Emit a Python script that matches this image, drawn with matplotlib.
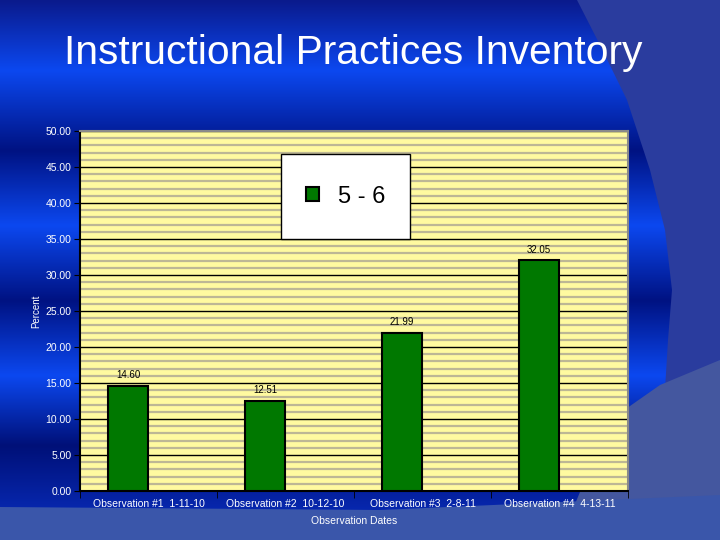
import matplotlib.pyplot as plt
import numpy as np
from matplotlib.patches import Polygon, Rectangle

# Daten
categories = ['Observation #1  1-11-10', 'Observation #2  10-12-10',
              'Observation #3  2-8-11', 'Observation #4  4-13-11']
values = [14.60, 12.51, 21.99, 32.05]
series_name = '5 - 6'
title = 'Instructional Practices Inventory'

plt.rcParams['font.family'] = ['Liberation Sans', 'DejaVu Sans']

fig = plt.figure(figsize=(7.2, 5.4), dpi=100)

# Hintergrund (Folie) in Pixelkoordinaten
bg = fig.add_axes([0, 0, 1, 1], zorder=-5)
bg.set_xlim(0, 720)
bg.set_ylim(540, 0)
bg.axis('off')

stops_y = [0, 70, 150, 225, 300, 375, 445, 540]
stops_c = np.array([[10, 26, 140], [12, 72, 240], [0, 18, 130], [12, 72, 240],
                    [0, 18, 130], [12, 72, 240], [0, 16, 120], [10, 50, 200]]) / 255
yy = np.arange(540)
grad = np.stack([np.interp(yy, stops_y, stops_c[:, k]) for k in range(3)], axis=-1)
grad = np.repeat(grad[:, None, :], 2, axis=1)
bg.imshow(grad, extent=(0, 720, 540, 0), aspect='auto', interpolation='bilinear')

# rechte Sichel
crescent = [(577, 0), (720, 0), (720, 360), (665, 390), (668, 340), (672, 290),
            (665, 230), (650, 170), (627, 100), (600, 45)]
bg.add_patch(Polygon(crescent, closed=True, facecolor='#2a3c9e', edgecolor='none'))
# helle Fläche unten rechts
bg.add_patch(Polygon([(720, 360), (720, 540), (560, 540), (610, 420), (660, 385)],
                     closed=True, facecolor='#44579f', edgecolor='none'))
# Band unten
bg.add_patch(Polygon([(0, 507), (380, 510), (720, 495), (720, 540), (0, 540)],
                     closed=True, facecolor='#3a56aa', edgecolor='none'))

fig.text(0.49, 0.902, title, color='white', fontsize=29.3, ha='center', va='center')

# Diagramm
ax = fig.add_axes([80 / 720, 49 / 540, 548 / 720, 360 / 540])
ax.set_facecolor('#fffaa0')

x = np.arange(len(categories))
bars = ax.bar(x + 0.35, values, width=0.29, color='#007800', edgecolor='black',
              linewidth=1.5, label=series_name, zorder=3)
ax.bar_label(bars, fmt='%.2f', padding=4, fontsize=7, color='black')

ax.set_xlim(0, 4)
ax.set_ylim(0, 50)
ax.set_yticks(np.arange(0, 51, 5))
ax.set_yticklabels(['%.2f' % v for v in np.arange(0, 51, 5)])
ax.set_yticks(np.arange(0, 51, 1), minor=True)
ax.set_xticks(x + 0.5)
ax.set_xticklabels(categories)
ax.set_xticks(np.arange(0, 5), minor=True)

ax.grid(axis='y', which='minor', color='#bdb795', linewidth=1.6, zorder=0)
ax.grid(axis='y', which='major', color='black', linewidth=1.0, zorder=1)
ax.set_axisbelow(True)

ax.tick_params(axis='y', which='major', colors='black', labelcolor='white',
               labelsize=7.5, length=4, direction='out', pad=2)
ax.tick_params(axis='y', which='minor', length=0)
ax.tick_params(axis='x', which='major', length=0, labelcolor='white', labelsize=7.5, pad=6)
ax.tick_params(axis='x', which='minor', length=5, color='black')

for s in ['left', 'bottom']:
    ax.spines[s].set_color('black')
    ax.spines[s].set_linewidth(1.5)
for s in ['top', 'right']:
    ax.spines[s].set_color('#8a8a8a')
    ax.spines[s].set_linewidth(1.5)

ax.set_ylabel('Percent', color='white', fontsize=7, labelpad=3.5)
ax.set_xlabel('Observation Dates', color='white', fontsize=7.5, labelpad=5)

# Legendenkasten
ax.add_patch(Rectangle((0.367, 0.70), 0.235, 0.236, transform=ax.transAxes,
                       facecolor='white', edgecolor='black', linewidth=1.0, zorder=4))
leg = ax.legend(loc='center', bbox_to_anchor=(0.485, 0.818), fontsize=17,
                frameon=False, handlelength=0.55, handleheight=0.55,
                handletextpad=0.8, borderaxespad=0)
leg.set_zorder(5)

fig.savefig('out.png', dpi=100)
